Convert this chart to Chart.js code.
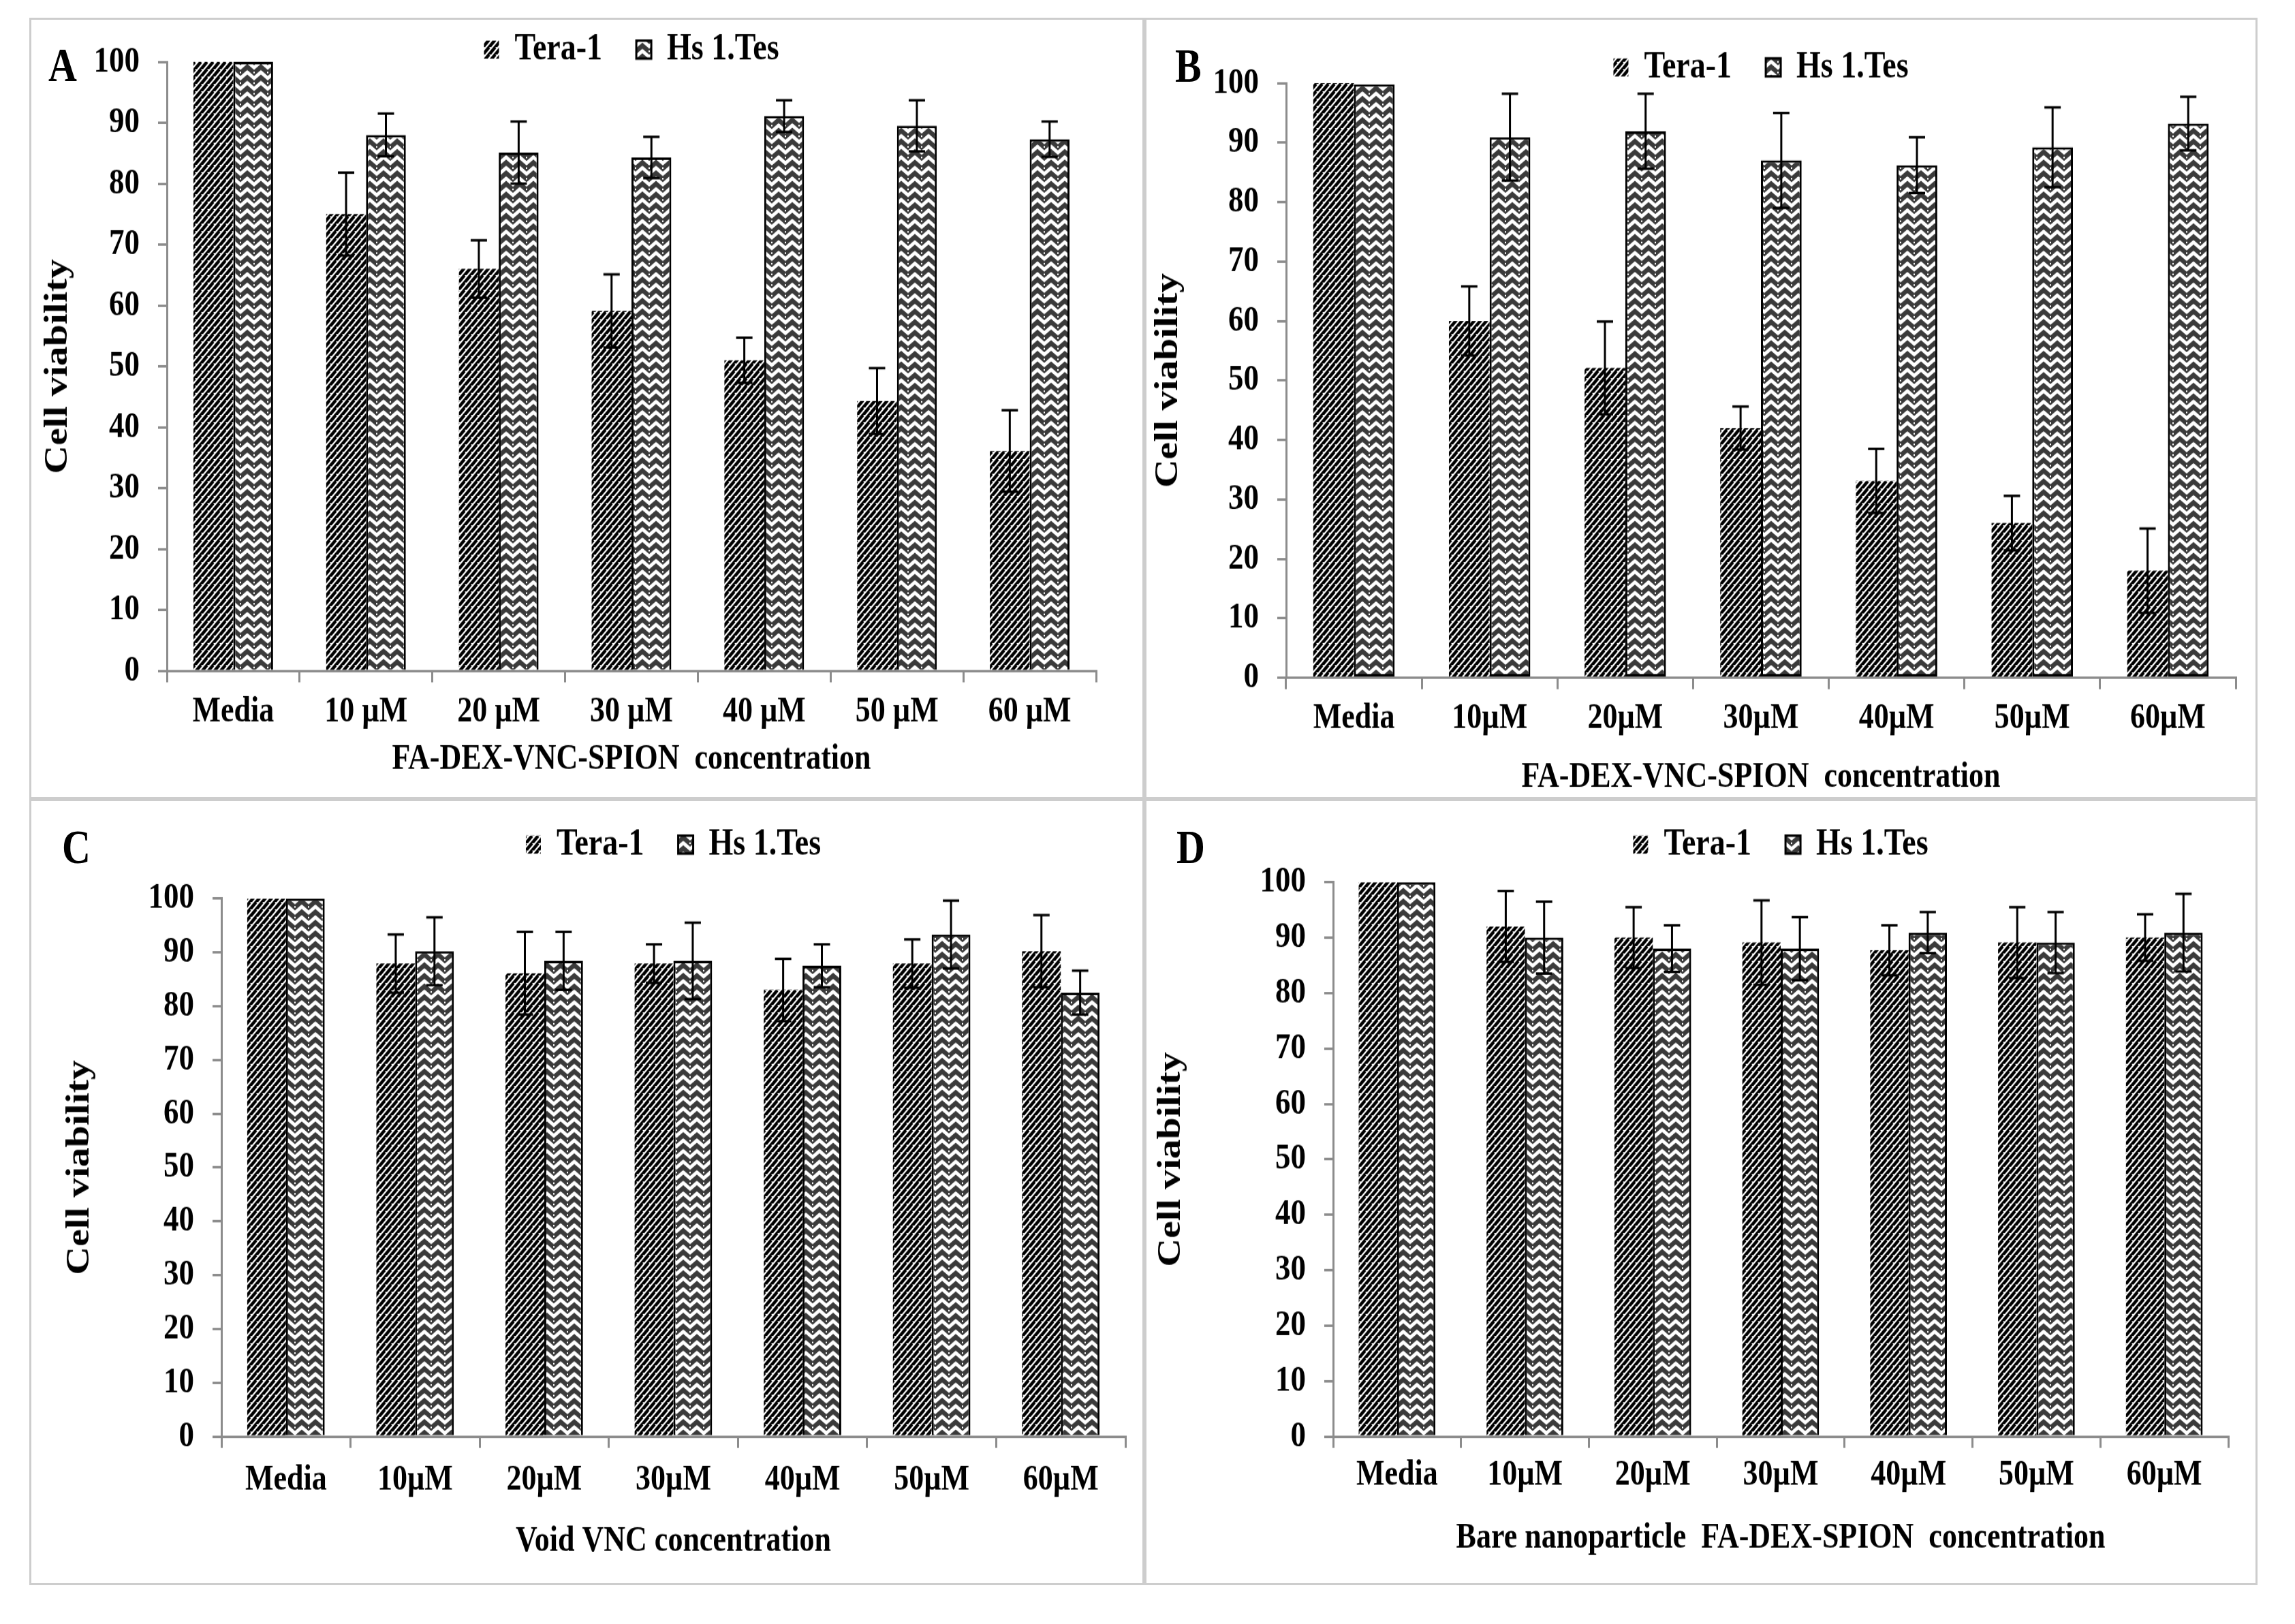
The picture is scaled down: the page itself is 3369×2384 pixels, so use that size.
<!DOCTYPE html>
<html>
<head>
<meta charset="utf-8">
<script src="https://cdn.jsdelivr.net/npm/chart.js@4.4.1/dist/chart.umd.min.js"></script>
<style>
  body { margin: 0; width: 3369px; height: 2384px; background: #fff; position: relative; overflow: hidden; }
  .frame { position: absolute; border: 3px solid #cdcdcd; box-sizing: border-box; }
  .letter { position: absolute; font: bold 58px 'Liberation Serif', 'Times New Roman', serif; line-height: 58px;
            transform: scaleY(1.2); transform-origin: 0 0; color: #000; }
  canvas { position: absolute; }
</style>
</head>
<body>
<script>
// categories
const labelsA = ['Media', '10 µM', '20 µM', '30 µM', '40 µM', '50 µM', '60 µM'];
const labelsBCD = ['Media', '10µM', '20µM', '30µM', '40µM', '50µM', '60µM'];
const seriesNames = ['Tera-1', 'Hs 1.Tes'];
const yTitle = 'Cell viability';
const xTitleA = 'FA-DEX-VNC-SPION  concentration';
const xTitleB = 'FA-DEX-VNC-SPION  concentration';
const xTitleC = 'Void VNC concentration';
const xTitleD = 'Bare nanoparticle  FA-DEX-SPION  concentration';

// A - FA-DEX-VNC-SPION
const teraA = [100, 75.0, 66.0, 59.1, 51.0, 44.3, 36.1];
const teraErrA = [0, 6.8, 4.7, 6.0, 3.7, 5.4, 6.7];
const hsA = [100, 88.0, 85.1, 84.3, 91.1, 89.5, 87.3];
const hsErrA = [0, 3.5, 5.1, 3.4, 2.6, 4.2, 2.9];

// B
const teraB = [100, 60.0, 52.1, 42.0, 33.1, 26.0, 18.0];
const teraErrB = [0, 5.8, 7.8, 3.6, 5.4, 4.6, 7.1];
const hsB = [99.8, 90.9, 91.9, 87.0, 86.2, 89.2, 93.2];
const hsErrB = [0, 7.3, 6.3, 8.0, 4.7, 6.7, 4.5];

// C - void VNC
const teraC = [100, 87.9, 86.1, 87.9, 83.0, 87.9, 90.2];
const teraErrC = [0, 5.4, 7.7, 3.6, 5.8, 4.5, 6.7];
const hsC = [100, 90.2, 88.4, 88.4, 87.5, 93.3, 82.5];
const hsErrC = [0, 6.3, 5.4, 7.1, 4.0, 6.3, 4.1];

// D - bare nanoparticle
const teraD = [100, 92.0, 90.0, 89.1, 87.7, 89.1, 90.0];
const teraErrD = [0, 6.4, 5.5, 7.6, 4.5, 6.4, 4.2];
const hsD = [100, 90.0, 88.0, 88.0, 90.9, 89.1, 90.9];
const hsErrD = [0, 6.5, 4.2, 5.7, 3.7, 5.5, 7.0];

// the original figure is stretched vertically, so each canvas is drawn short and scaled in css
const SY = 1.2;
const FONT = "'Liberation Serif', 'Times New Roman', serif";
const AXIS_GREY = '#8c8c8c';

const panels = [
    { letter: 'A', letterPos: [71, 61], box: [43, 26, 1680, 1173], plot: [245, 90, 1609, 985],
      yTitleX: 86, xLabelY: 1046, xTitleY: 1115, legendY: 72,
      labels: labelsA, tera: teraA, teraErr: teraErrA, hs: hsA, hsErr: hsErrA, xTitle: xTitleA },
    { letter: 'B', letterPos: [1725, 62], box: [1680, 26, 3314, 1173], plot: [1888, 122, 3282, 995],
      yTitleX: 1716, xLabelY: 1055, xTitleY: 1141, legendY: 99, baseLine: true,
      labels: labelsBCD, tera: teraB, teraErr: teraErrB, hs: hsB, hsErr: hsErrB, xTitle: xTitleB },
    { letter: 'C', letterPos: [91, 1209], box: [43, 1173, 1680, 2327], plot: [325, 1319, 1652, 2109],
      yTitleX: 118, xLabelY: 2173, xTitleY: 2263, legendY: 1240,
      labels: labelsBCD, tera: teraC, teraErr: teraErrC, hs: hsC, hsErr: hsErrC, xTitle: xTitleC },
    { letter: 'D', letterPos: [1727, 1209], box: [1680, 1173, 3314, 2327], plot: [1957, 1295, 3271, 2109],
      yTitleX: 1720, xLabelY: 2166, xTitleY: 2259, legendY: 1240,
      labels: labelsBCD, tera: teraD, teraErr: teraErrD, hs: hsD, hsErr: hsErrD, xTitle: xTitleD }
];

function makeHatch() {
    const n = 9;
    const c = document.createElement('canvas');
    c.width = n; c.height = n;
    const g = c.getContext('2d');
    g.fillStyle = '#fff';
    g.fillRect(0, 0, n, n);
    g.strokeStyle = '#000';
    g.lineWidth = 4.3;
    g.beginPath();
    for (let k = -n; k <= 2 * n; k += n) {
        g.moveTo(k - n, 2 * n);
        g.lineTo(k + n, 0);
    }
    g.stroke();
    return g.createPattern(c, 'repeat');
}

function makeZigzag() {
    const c = document.createElement('canvas');
    c.width = 20; c.height = 13;
    const g = c.getContext('2d');
    g.fillStyle = '#3a3a3a';
    g.fillRect(0, 0, 20, 13);
    g.strokeStyle = '#fff';
    g.lineWidth = 4.6;
    g.beginPath();
    for (let dy = -13; dy <= 13; dy += 13) {
        g.moveTo(-1, dy + 1);
        g.lineTo(10, dy + 9);
        g.lineTo(21, dy + 1);
    }
    g.stroke();
    g.fillStyle = '#fff';
    g.fillRect(9, 1, 2, 2);
    return g.createPattern(c, 'repeat');
}

const errorBars = {
    id: 'errorBars',
    afterDatasetsDraw(chart) {
        const ctx = chart.ctx;
        const y = chart.scales.y;
        ctx.save();
        ctx.strokeStyle = '#000';
        ctx.lineWidth = 3;
        chart.data.datasets.forEach((ds, i) => {
            chart.getDatasetMeta(i).data.forEach((bar, j) => {
                const e = ds.errors[j];
                if (!e) return;
                const v = ds.data[j];
                const top = y.getPixelForValue(v + e);
                const bot = y.getPixelForValue(v - e);
                const half = 12;
                ctx.beginPath();
                ctx.moveTo(bar.x, top); ctx.lineTo(bar.x, bot);
                ctx.moveTo(bar.x - half, top); ctx.lineTo(bar.x + half, top);
                ctx.moveTo(bar.x - half, bot); ctx.lineTo(bar.x + half, bot);
                ctx.stroke();
            });
        });
        ctx.restore();
    }
};

const hatch = makeHatch();
const zigzag = makeZigzag();

panels.forEach(p => {
    const [x0, y0, x1, y1] = p.box;
    const W = x1 - x0;
    const Hpage = y1 - y0;
    const H = Math.round(Hpage / SY);
    const toC = v => (v - y0) / SY;

    const frame = document.createElement('div');
    frame.className = 'frame';
    Object.assign(frame.style, { left: x0 + 'px', top: y0 + 'px', width: W + 'px', height: Hpage + 'px' });
    document.body.appendChild(frame);

    const canvas = document.createElement('canvas');
    canvas.width = W;
    canvas.height = H;
    Object.assign(canvas.style, { left: x0 + 'px', top: y0 + 'px', width: W + 'px', height: Hpage + 'px' });
    document.body.appendChild(canvas);

    const letter = document.createElement('div');
    letter.className = 'letter';
    letter.textContent = p.letter;
    letter.style.left = p.letterPos[0] + 'px';
    letter.style.top = p.letterPos[1] + 'px';
    document.body.appendChild(letter);

    // plot area in canvas units
    const pl = p.plot[0] - x0, pr = p.plot[2] - x0;
    const pt = toC(p.plot[1]), pb = toC(p.plot[3]);
    const lc = toC(p.legendY), xl = toC(p.xLabelY), xt = toC(p.xTitleY);

    // legend: text centre sits padding + font/2 below its top, the plot starts at its bottom
    const legendFont = 46, legendPad = 50;
    const naturalH = legendFont + legendPad + 10;
    const textOff = legendPad + legendFont / 2;
    const wantH = textOff + (pt - lc);
    let legendMax, gap = 0;
    if (wantH <= naturalH) {
        legendMax = wantH;
    } else {
        gap = wantH - naturalH;
    }
    const padTop = lc - textOff;

    const titleHalf = 48 * 1.2 / 2;
    const padLeft = p.yTitleX - x0 - titleHalf;
    const yWidth = pl - padLeft;
    const xTitleHalf = 44 * 1.2 / 2;
    const axisBottom = xt + xTitleHalf;
    const xHeight = axisBottom - pb;
    const xTickLen = 14;
    const xTickPad = xl - pb - 44 * 1.2 / 2 - xTickLen;

    new Chart(canvas, {
        type: 'bar',
        data: {
            labels: p.labels,
            datasets: [
                {
                    label: seriesNames[0],
                    data: p.tera,
                    errors: p.teraErr,
                    backgroundColor: hatch,
                    borderColor: '#000',
                    borderWidth: 0
                },
                {
                    label: seriesNames[1],
                    data: p.hs,
                    errors: p.hsErr,
                    backgroundColor: zigzag,
                    borderColor: '#000',
                    borderWidth: 3,
                    borderSkipped: p.baseLine ? false : 'start'
                }
            ]
        },
        options: {
            responsive: false,
            animation: false,
            devicePixelRatio: 1,
            datasets: { bar: { categoryPercentage: 0.6, barPercentage: 1.0 } },
            layout: { padding: { top: padTop, left: padLeft, right: W - pr, bottom: H - axisBottom } },
            scales: {
                x: {
                    afterFit: s => { s.height = xHeight; },
                    grid: { offset: true, drawOnChartArea: false, color: AXIS_GREY, lineWidth: 3, tickLength: xTickLen },
                    border: { color: AXIS_GREY, width: 3 },
                    ticks: { color: '#000', font: { family: FONT, size: 44, weight: 'bold' },
                             padding: xTickPad, autoSkip: false, maxRotation: 0, minRotation: 0 },
                    title: { display: true, text: p.xTitle, color: '#000', padding: 0,
                             font: { family: FONT, size: 44, weight: 'bold' } }
                },
                y: {
                    min: 0, max: 100,
                    afterFit: s => { s.width = yWidth; },
                    grid: { drawOnChartArea: false, color: AXIS_GREY, lineWidth: 3, tickLength: 13 },
                    border: { color: AXIS_GREY, width: 3 },
                    ticks: { stepSize: 10, color: '#000', padding: 27, font: { family: FONT, size: 45, weight: 'bold' } },
                    title: { display: true, text: yTitle, color: '#000', padding: 0,
                             font: { family: FONT, size: 48, weight: 'bold' } }
                }
            },
            plugins: {
                legend: {
                    position: 'top',
                    fullSize: false,
                    maxHeight: legendMax,
                    labels: { color: '#000', padding: legendPad, boxWidth: 22, boxHeight: 22,
                              font: { family: FONT, size: legendFont, weight: 'bold' } }
                },
                // empty title used only as a spacer between legend and plot
                title: {
                    display: gap > 0,
                    text: '',
                    position: 'top',
                    fullSize: false,
                    weight: 500,
                    font: { size: 1, lineHeight: 1 },
                    padding: { top: 0, bottom: Math.max(gap - 1, 0) }
                },
                tooltip: { enabled: false }
            }
        },
        plugins: [errorBars]
    });
});
</script>
</body>
</html>
